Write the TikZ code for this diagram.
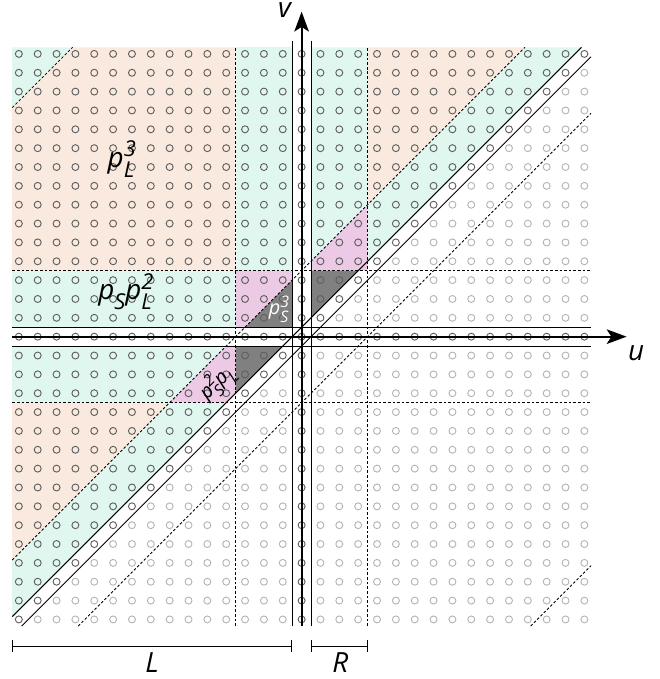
\documentclass[tikz,border=0pt]{standalone}
\usepackage{fontspec}
\setmainfont{Open Sans}
\usetikzlibrary{arrows.meta}
\definecolor{peach}{RGB}{249,233,222}
\definecolor{teal2}{RGB}{224,247,240}
\definecolor{pink2}{RGB}{236,201,228}
\definecolor{gray2}{RGB}{128,128,128}
\definecolor{dkc}{RGB}{95,95,95}
\definecolor{ltc}{RGB}{180,180,180}
\newcommand\SupSub[5]{% sup, sub, size, raise, lower
  \setbox0=\hbox{\fontsize{#3}{#3}\selectfont #1}%
  \setbox2=\hbox{\fontsize{#3}{#3}\selectfont\itshape #2}%
  \ifdim\wd0>\wd2 \dimen0=\wd0 \else \dimen0=\wd2 \fi
  \hbox to\dimen0{\rlap{\raise#4\box0}\rlap{\lower#5\box2}\hfil}}
\tikzset{
  dk/.style={draw=dkc,line width=0.7pt},
  lt/.style={draw=ltc,line width=0.7pt},
  thin/.style={line width=0.75pt},
  dsh/.style={line width=0.65pt,dash pattern=on 2pt off 1.5pt},
  axis/.style={line width=1.4pt,-{Stealth[length=15pt,width=11pt,inset=3.5pt]}},
  biglab/.style={inner sep=0pt,font=\fontsize{21pt}{21pt}\selectfont\itshape},
  axlab/.style={inner sep=0pt,font=\fontsize{21pt}{21pt}\selectfont\itshape},
  smlab/.style={inner sep=0pt,font=\fontsize{15pt}{15pt}\selectfont\itshape},
  bar/.style={line width=0.7pt,{Bar[width=9pt]}-{Bar[width=9pt]}}
}
\begin{document}
\begin{tikzpicture}[x=0.5cm,y=0.5cm]
\def\B{15.35}
\useasboundingbox (-16.0,-18.16) rectangle (19.01,17.86);
% peach
\fill[peach] (-\B,3.5) -- (-3.5,3.5) -- (-3.5,\B) -- (\B-27.5,\B) -- (-\B,27.5-\B) -- cycle;
\fill[peach] (3.5,7) -- (3.5,\B) -- (\B-3.5,\B) -- cycle;
\fill[peach] (-\B,-3.5) -- (-7,-3.5) -- (-\B,3.5-\B) -- cycle;
% teal
\fill[teal2] (-\B,27.5-\B) -- (\B-27.5,\B) -- (-\B,\B) -- cycle;
\fill[teal2] (-3.5,3.5) rectangle (-0.5,\B);
\fill[teal2] (0.5,4) -- (3.5,7) -- (3.5,\B) -- (0.5,\B) -- cycle;
\fill[teal2] (-\B,0.5) rectangle (-3.5,3.5);
\fill[teal2] (-\B,-0.5) -- (-4,-0.5) -- (-7,-3.5) -- (-\B,-3.5) -- cycle;
\fill[teal2] (3.5,4) -- (\B-0.5,\B) -- (\B-3.5,\B) -- (3.5,7) -- cycle;
\fill[teal2] (-\B,3.5-\B) -- (-7,-3.5) -- (-4,-3.5) -- (-\B,0.5-\B) -- cycle;
% pink
\fill[pink2] (-3.5,0.5) -- (-3,0.5) -- (-0.5,3) -- (-0.5,3.5) -- (-3.5,3.5) -- cycle;
\fill[pink2] (0.5,3.5) -- (3.5,3.5) -- (3.5,7) -- (0.5,4) -- cycle;
\fill[pink2] (-7,-3.5) -- (-4,-3.5) -- (-3.5,-3) -- (-3.5,-0.5) -- (-4,-0.5) -- cycle;
% gray
\fill[gray2] (-3,0.5) -- (-0.5,0.5) -- (-0.5,3) -- cycle;
\fill[gray2] (0.5,1) -- (0.5,3.5) -- (3,3.5) -- cycle;
\fill[gray2] (-3.5,-3) -- (-3.5,-0.5) -- (-1,-0.5) -- cycle;
% circles
\foreach \i in {-15,...,15}{\foreach \j in {-15,...,15}{%
  \ifnum\j<\i \ifnum\i=0 \def\circcol{dk}\else\ifnum\j=0 \def\circcol{dk}\else\def\circcol{lt}\fi\fi\else\def\circcol{dk}\fi
  \draw[\circcol] (\i,\j) circle[radius=0.185];
}}
% dashed lines
\draw[dsh] (-3.5,-\B) -- (-3.5,\B);
\draw[dsh] (3.5,-\B) -- (3.5,\B);
\draw[dsh] (-\B,3.5) -- (\B,3.5);
\draw[dsh] (-\B,-3.5) -- (\B,-3.5);
\draw[dsh] (-\B,3.5-\B) -- (\B-3.5,\B);
\draw[dsh] (3.5-\B,-\B) -- (\B,\B-3.5);
\draw[dsh] (-\B,27.5-\B) -- (\B-27.5,\B);
\draw[dsh] (27.5-\B,-\B) -- (\B,\B-27.5);
% solid thin lines
\draw[thin] (-0.5,-\B) -- (-0.5,15.7);
\draw[thin] (0.5,-\B) -- (0.5,15.7);
\draw[thin] (-\B,0.5) -- (\B,0.5);
\draw[thin] (-\B,-0.5) -- (\B,-0.5);
\draw[thin] (-\B,0.5-\B) -- (\B-0.5,\B);
\draw[thin] (0.5-\B,-\B) -- (\B,\B-0.5);
% axes
\coordinate (u0) at (-\B,0);
\coordinate (u1) at (17.24,0);
\coordinate (v0) at (0,-\B);
\coordinate (v1) at (0,17.24);
\draw[axis] (u0) -- (u1);
\draw[axis] (v0) -- (v1);
\node[axlab] (ulab) at (17.75,-0.85) {u};
\node[axlab] (vlab) at (-0.9,17.3) {v};
% labels
\node[biglab,anchor=base west] (pl3) at (-10.3,9.0) {p\SupSub{3}{L}{16.5pt}{8pt}{7.6pt}};
\node[biglab,anchor=base west] (pspl2) at (-10.8,1.95) {p\SupSub{}{S}{16.5pt}{8pt}{7.6pt}p\SupSub{2}{L}{16.5pt}{8pt}{7.6pt}};
\node[smlab,text=white,anchor=base west] (ps3) at (-1.75,1.15) {p\SupSub{3}{S}{12pt}{5.8pt}{5.5pt}};
\node[smlab,rotate=45] (ps2pl) at (-4.5,-2.45) {p\SupSub{2}{S}{12pt}{5.8pt}{5.5pt}p\SupSub{}{L}{12pt}{5.8pt}{5.5pt}};
% bars
\coordinate (la) at (-\B,-16.41);
\coordinate (lb) at (-0.5,-16.41);
\coordinate (ra) at (0.5,-16.41);
\coordinate (rb) at (3.5,-16.41);
\draw[bar] (la) -- (lb);
\draw[bar] (ra) -- (rb);
\node[axlab] (Llab) at (-7.93,-17.3) {L};
\node[axlab] (Rlab) at (2.05,-17.3) {R};
\end{tikzpicture}
\end{document}
